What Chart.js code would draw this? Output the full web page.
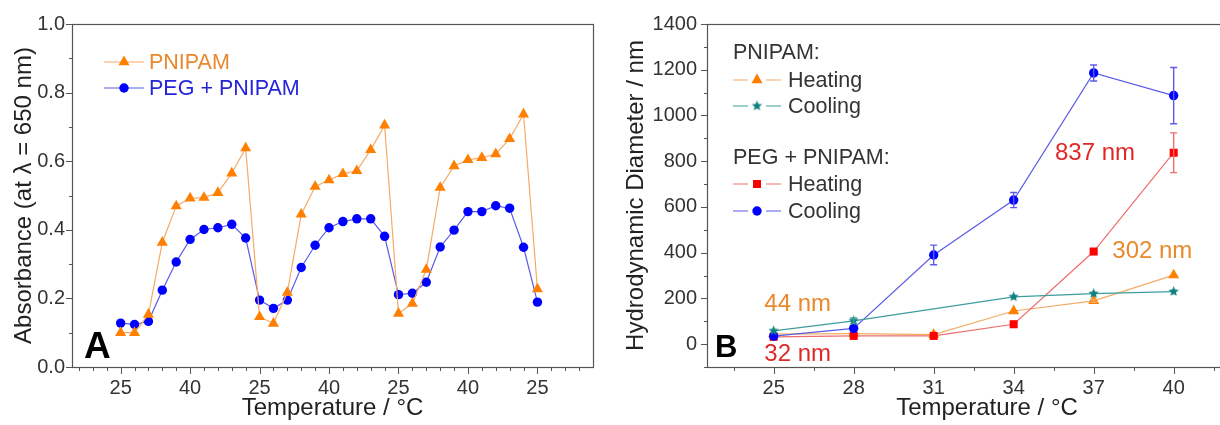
<!DOCTYPE html>
<html>
<head>
<meta charset="utf-8">
<script src="https://cdn.jsdelivr.net/npm/chart.js@4.4.0/dist/chart.umd.min.js"></script>
<style>
    html, body { margin: 0; padding: 0; background: #fff; overflow: hidden; width: 1220px; height: 425px; }
    #wrapA { position: absolute; left: 0; top: 0; width: 600px; height: 425px; }
    #wrapB { position: absolute; left: 600px; top: 0; width: 680px; height: 425px; }
</style>
</head>
<body>
<div id="wrapA"><canvas id="chartA" width="600" height="425"></canvas></div>
<div id="wrapB"><canvas id="chartB" width="680" height="425"></canvas></div>
<script>
// ---- Panel A: turbidity over three heating / cooling cycles ----
const cycleTickLabels = ['25', '40', '25', '40', '25', '40', '25'];
const absTicks = [0, 0.2, 0.4, 0.6, 0.8, 1.0];
const absPnipam = [0.100, 0.100, 0.153, 0.363, 0.469, 0.492, 0.494, 0.508, 0.565, 0.638,
                   0.146, 0.127, 0.217, 0.445, 0.526, 0.545, 0.563, 0.572, 0.633, 0.705,
                   0.156, 0.185, 0.284, 0.523, 0.586, 0.604, 0.610, 0.621, 0.665, 0.737,
                   0.227];
const absPegPnipam = [0.128, 0.124, 0.133, 0.224, 0.306, 0.372, 0.401, 0.406, 0.416, 0.376,
                      0.195, 0.171, 0.195, 0.290, 0.355, 0.406, 0.424, 0.432, 0.432, 0.381,
                      0.211, 0.215, 0.247, 0.350, 0.399, 0.453, 0.453, 0.470, 0.463, 0.349,
                      0.189];

// ---- Panel B: hydrodynamic diameter (DLS) ----
const dlsTemps = [25, 28, 31, 34, 37, 40];
const diamTicks = [0, 200, 400, 600, 800, 1000, 1200, 1400];
const pnipamHeating = [44, 46, 42, 145, 189, 302];
const pnipamHeatingErr = [0, 0, 0, 0, 6, 0];
const pnipamCooling = [58, 102, null, 207, 221, 230];
const pnipamCoolingErr = [0, 12, null, 0, 0, 0];
const pegHeating = [32, 36, 36, 87, 405, 837];
const pegHeatingErr = [0, 0, 0, 0, 0, 87];
const pegCooling = [35, 69, 390, 630, 1186, 1087];
const pegCoolingErr = [0, 0, 43, 33, 35, 123];

const FONT = '"Liberation Sans", Arial, sans-serif';
const ORANGE = '#FF7F00', ORANGE_LINE = '#F5AA66', ORANGE_TEXT = '#E8892C';
const BLUE = '#0000FF', BLUE_LINE = '#5C5CE8', BLUE_TEXT = '#2424D8';
const RED = '#FF0000', RED_LINE = '#EC6E6E', RED_TEXT = '#E02828';
const TEAL = '#0E8080', TEAL_LINE = '#3F9C9C';
const AXIS = '#555';

function makeStar(r, color) {
    const c = document.createElement('canvas');
    const size = Math.ceil(r * 2) + 2;
    c.width = c.height = size;
    const g = c.getContext('2d');
    g.fillStyle = color;
    g.beginPath();
    for (let k = 0; k < 10; k++) {
        const rr = k % 2 ? r * 0.45 : r;
        const a = -Math.PI / 2 + k * Math.PI / 5;
        g.lineTo(size / 2 + rr * Math.cos(a), size / 2 + rr * Math.sin(a));
    }
    g.closePath();
    g.fill();
    return c;
}
const starImg = makeStar(5.4, TEAL);

function drawMarker(ctx, style, x, y, color) {
    ctx.fillStyle = color;
    ctx.beginPath();
    if (style === 'triangle') {
        const r = 6.4;
        ctx.moveTo(x, y - r);
        ctx.lineTo(x + r * 0.866, y + r / 2);
        ctx.lineTo(x - r * 0.866, y + r / 2);
        ctx.closePath();
        ctx.fill();
    } else if (style === 'circle') {
        ctx.arc(x, y, 4.7, 0, Math.PI * 2);
        ctx.fill();
    } else if (style === 'rect') {
        ctx.fillRect(x - 4, y - 4, 8, 8);
    } else if (style === 'star') {
        ctx.drawImage(starImg, x - starImg.width / 2, y - starImg.height / 2);
    }
}

// frame around the plot + major/minor tick marks
const frameTicks = {
    id: 'frameTicks',
    afterDraw(chart, args, opts) {
        const ctx = chart.ctx;
        const { left, right, top, bottom } = chart.chartArea;
        const xs = chart.scales.x, ys = chart.scales.y;
        ctx.save();
        ctx.strokeStyle = AXIS;
        ctx.lineWidth = 1.2;
        ctx.strokeRect(Math.round(left) + 0.5, Math.round(top) + 0.5,
                       Math.round(right - left), Math.round(bottom - top));
        ctx.lineWidth = 1;
        ctx.beginPath();
        const b = Math.round(bottom) + 0.5, l = Math.round(left) + 0.5;
        opts.xMinor.forEach(v => {
            const px = Math.round(xs.getPixelForValue(v)) + 0.5;
            ctx.moveTo(px, b); ctx.lineTo(px, b + 3.5);
        });
        opts.xMajor.forEach(v => {
            const px = Math.round(xs.getPixelForValue(v)) + 0.5;
            ctx.moveTo(px, b); ctx.lineTo(px, b + 6.5);
        });
        opts.yMinor.forEach(v => {
            const py = Math.round(ys.getPixelForValue(v)) + 0.5;
            ctx.moveTo(l, py); ctx.lineTo(l - 3.5, py);
        });
        opts.yMajor.forEach(v => {
            const py = Math.round(ys.getPixelForValue(v)) + 0.5;
            ctx.moveTo(l, py); ctx.lineTo(l - 6.5, py);
        });
        ctx.stroke();
        ctx.restore();
    }
};

// vertical error bars, read from dataset.errors
const errorBars = {
    id: 'errorBars',
    afterDatasetsDraw(chart) {
        const ctx = chart.ctx;
        const ys = chart.scales.y;
        ctx.save();
        chart.data.datasets.forEach((ds, i) => {
            if (!ds.errors) return;
            const meta = chart.getDatasetMeta(i);
            ctx.strokeStyle = ds.borderColor;
            ctx.lineWidth = 1.4;
            meta.data.forEach((pt, j) => {
                const e = ds.errors[j];
                const v = ds.data[j].y;
                if (!e || v === null) return;
                const y1 = ys.getPixelForValue(v + e), y2 = ys.getPixelForValue(v - e);
                ctx.beginPath();
                ctx.moveTo(pt.x, y1); ctx.lineTo(pt.x, y2);
                ctx.moveTo(pt.x - 3.5, y1); ctx.lineTo(pt.x + 3.5, y1);
                ctx.moveTo(pt.x - 3.5, y2); ctx.lineTo(pt.x + 3.5, y2);
                ctx.stroke();
            });
        });
        ctx.restore();
    }
};

// hand-drawn legend, panel letter and value labels
const extras = {
    id: 'extras',
    afterDraw(chart, args, opts) {
        const ctx = chart.ctx;
        ctx.save();
        ctx.textBaseline = 'middle';
        ctx.textAlign = 'left';
        (opts.legend || []).forEach(it => {
            if (it.header) {
                ctx.fillStyle = '#333';
                ctx.font = '21.5px ' + FONT;
                ctx.fillText(it.header, it.x, it.y);
                return;
            }
            ctx.strokeStyle = it.line;
            ctx.lineWidth = 1.2;
            ctx.beginPath();
            if (it.gap) {
                ctx.moveTo(it.x, it.y); ctx.lineTo(it.x + 15, it.y);
                ctx.moveTo(it.x + 33, it.y); ctx.lineTo(it.x + 48, it.y);
            } else {
                ctx.moveTo(it.x, it.y); ctx.lineTo(it.x + it.len, it.y);
            }
            ctx.stroke();
            drawMarker(ctx, it.marker, it.x + it.len / 2, it.y, it.color);
            ctx.fillStyle = it.textColor;
            ctx.font = '21.5px ' + FONT;
            ctx.fillText(it.text, it.x + it.len + it.pad, it.y + 1);
        });
        const xs = chart.scales.x, ys = chart.scales.y;
        ctx.textAlign = 'center';
        (opts.notes || []).forEach(n => {
            ctx.fillStyle = n.color;
            ctx.font = '24px ' + FONT;
            ctx.fillText(n.text, xs.getPixelForValue(n.x), ys.getPixelForValue(n.y));
        });
        if (opts.letter) {
            ctx.textAlign = 'left';
            ctx.textBaseline = 'alphabetic';
            ctx.fillStyle = '#000';
            ctx.font = 'bold ' + opts.letter.size + 'px ' + FONT;
            ctx.fillText(opts.letter.text, opts.letter.x, opts.letter.y);
        }
        ctx.restore();
    }
};

function range(a, b, step) {
    const out = [];
    for (let v = a; v <= b + 1e-9; v += step) out.push(Math.round(v * 1000) / 1000);
    return out;
}

const tickFont = { family: FONT, size: 20 };
const titleFont = { family: FONT, size: 24 };

// ---------------- Panel A ----------------
new Chart(document.getElementById('chartA'), {
    type: 'line',
    data: {
        datasets: [
            {
                label: 'PNIPAM',
                data: absPnipam.map((y, i) => ({ x: i, y: y })),
                borderColor: ORANGE_LINE,
                borderWidth: 1.2,
                pointStyle: 'triangle',
                pointRadius: 6.4,
                pointBackgroundColor: ORANGE,
                pointBorderColor: ORANGE,
                pointBorderWidth: 0,
                tension: 0
            },
            {
                label: 'PEG + PNIPAM',
                data: absPegPnipam.map((y, i) => ({ x: i, y: y })),
                borderColor: BLUE_LINE,
                borderWidth: 1.2,
                pointStyle: 'circle',
                pointRadius: 4.7,
                pointBackgroundColor: BLUE,
                pointBorderColor: BLUE,
                pointBorderWidth: 0,
                tension: 0
            }
        ]
    },
    options: {
        responsive: false,
        animation: false,
        devicePixelRatio: 1,
        layout: { padding: { top: 24, right: 7, left: 0, bottom: 0 } },
        plugins: {
            legend: { display: false },
            tooltip: { enabled: false },
            frameTicks: {
                xMajor: cycleTickLabels.map((_, i) => i * 5),
                xMinor: range(-3, 33, 1),
                yMajor: absTicks,
                yMinor: range(0.1, 0.9, 0.2)
            },
            extras: {
                legend: [
                    { x: 104, y: 62, len: 40, pad: 5, marker: 'triangle', color: ORANGE, line: ORANGE_LINE, text: 'PNIPAM', textColor: ORANGE_TEXT },
                    { x: 104, y: 88, len: 40, pad: 5, marker: 'circle', color: BLUE, line: BLUE_LINE, text: 'PEG + PNIPAM', textColor: BLUE_TEXT }
                ],
                letter: { text: 'A', x: 84, y: 358, size: 37 }
            }
        },
        scales: {
            x: {
                type: 'linear',
                min: -3.5,
                max: 34,
                afterBuildTicks: s => { s.ticks = cycleTickLabels.map((_, i) => ({ value: i * 5 })); },
                afterFit: s => { s.height = 58; },
                grid: { display: true, drawOnChartArea: false, drawTicks: true, tickLength: 6, tickColor: 'rgba(0,0,0,0)' },
                border: { display: false },
                ticks: {
                    autoSkip: false, maxRotation: 0, padding: 3, color: '#333', font: tickFont,
                    callback: v => { const i = v / 5; return Number.isInteger(i) ? cycleTickLabels[i] : ''; }
                },
                title: { display: true, text: 'Temperature / °C', color: '#222', font: titleFont, padding: { top: 0, bottom: 2 } }
            },
            y: {
                min: 0,
                max: 1,
                afterBuildTicks: s => { s.ticks = absTicks.map(v => ({ value: v })); },
                afterFit: s => { s.width = 72; },
                grid: { display: true, drawOnChartArea: false, drawTicks: true, tickLength: 6, tickColor: 'rgba(0,0,0,0)' },
                border: { display: false },
                ticks: { padding: 1, color: '#333', font: tickFont, callback: v => Number(v).toFixed(1) },
                title: { display: true, text: 'Absorbance (at λ = 650 nm)', color: '#222', font: titleFont, padding: { top: 10, bottom: 0 } }
            }
        }
    },
    plugins: [frameTicks, errorBars, extras]
});

// ---------------- Panel B ----------------
function dlsSeries(vals) {
    return vals.map((y, i) => ({ x: dlsTemps[i], y: y }));
}

new Chart(document.getElementById('chartB'), {
    type: 'line',
    data: {
        datasets: [
            {
                label: 'PNIPAM Cooling',
                data: dlsSeries(pnipamCooling),
                errors: pnipamCoolingErr,
                borderColor: TEAL_LINE, borderWidth: 1.2, spanGaps: true,
                pointStyle: starImg, pointRadius: 5,
                pointBackgroundColor: TEAL, pointBorderColor: TEAL
            },
            {
                label: 'PEG + PNIPAM Cooling',
                data: dlsSeries(pegCooling),
                errors: pegCoolingErr,
                borderColor: BLUE_LINE, borderWidth: 1.2,
                pointStyle: 'circle', pointRadius: 4.7, pointBorderWidth: 0,
                pointBackgroundColor: BLUE, pointBorderColor: BLUE
            },
            {
                label: 'PEG + PNIPAM Heating',
                data: dlsSeries(pegHeating),
                errors: pegHeatingErr,
                borderColor: RED_LINE, borderWidth: 1.2,
                pointStyle: 'rect', pointRadius: 5.7, pointBorderWidth: 0,
                pointBackgroundColor: RED, pointBorderColor: RED
            },
            {
                label: 'PNIPAM Heating',
                data: dlsSeries(pnipamHeating),
                errors: pnipamHeatingErr,
                borderColor: ORANGE_LINE, borderWidth: 1.2,
                pointStyle: 'triangle', pointRadius: 6.4, pointBorderWidth: 0,
                pointBackgroundColor: ORANGE, pointBorderColor: ORANGE
            }
        ]
    },
    options: {
        responsive: false,
        animation: false,
        devicePixelRatio: 1,
        layout: { padding: { top: 24, right: 13, left: 0, bottom: 0 } },
        plugins: {
            legend: { display: false },
            tooltip: { enabled: false },
            frameTicks: {
                xMajor: dlsTemps,
                xMinor: range(23.5, 43, 3),
                yMajor: diamTicks,
                yMinor: range(-100, 1300, 200)
            },
            extras: {
                legend: [
                    { header: 'PNIPAM:', x: 133, y: 53 },
                    { x: 133, y: 80, len: 48, pad: 7, gap: true, marker: 'triangle', color: ORANGE, line: ORANGE_LINE, text: 'Heating', textColor: '#333' },
                    { x: 133, y: 106, len: 48, pad: 7, gap: true, marker: 'star', color: TEAL, line: TEAL_LINE, text: 'Cooling', textColor: '#333' },
                    { header: 'PEG + PNIPAM:', x: 133, y: 158 },
                    { x: 133, y: 184, len: 48, pad: 7, gap: true, marker: 'rect', color: RED, line: RED_LINE, text: 'Heating', textColor: '#333' },
                    { x: 133, y: 211, len: 48, pad: 7, gap: true, marker: 'circle', color: BLUE, line: BLUE_LINE, text: 'Cooling', textColor: '#333' }
                ],
                notes: [
                    { text: '44 nm', x: 25.9, y: 175, color: ORANGE_TEXT },
                    { text: '32 nm', x: 25.9, y: -44, color: RED_TEXT },
                    { text: '837 nm', x: 37.05, y: 834, color: RED_TEXT },
                    { text: '302 nm', x: 39.2, y: 407, color: ORANGE_TEXT }
                ],
                letter: { text: 'B', x: 115, y: 357, size: 31 }
            }
        },
        scales: {
            x: {
                type: 'linear',
                min: 22.5,
                max: 43.5,
                afterBuildTicks: s => { s.ticks = dlsTemps.map(v => ({ value: v })); },
                afterFit: s => { s.height = 58; },
                grid: { display: true, drawOnChartArea: false, drawTicks: true, tickLength: 6, tickColor: 'rgba(0,0,0,0)' },
                border: { display: false },
                ticks: { autoSkip: false, maxRotation: 0, padding: 3, color: '#333', font: tickFont, callback: v => String(v) },
                title: { display: true, text: 'Temperature / °C', color: '#222', font: titleFont, padding: { top: 0, bottom: 2 } }
            },
            y: {
                min: -100,
                max: 1400,
                afterBuildTicks: s => { s.ticks = diamTicks.map(v => ({ value: v })); },
                afterFit: s => { s.width = 107; },
                grid: { display: true, drawOnChartArea: false, drawTicks: true, tickLength: 7, tickColor: 'rgba(0,0,0,0)' },
                border: { display: false },
                ticks: { padding: 3, color: '#333', font: tickFont, callback: v => String(v) },
                title: { display: true, text: 'Hydrodynamic Diameter / nm', color: '#222', font: titleFont, padding: { top: 22, bottom: 0 } }
            }
        }
    },
    plugins: [frameTicks, errorBars, extras]
});
</script>
</body>
</html>
